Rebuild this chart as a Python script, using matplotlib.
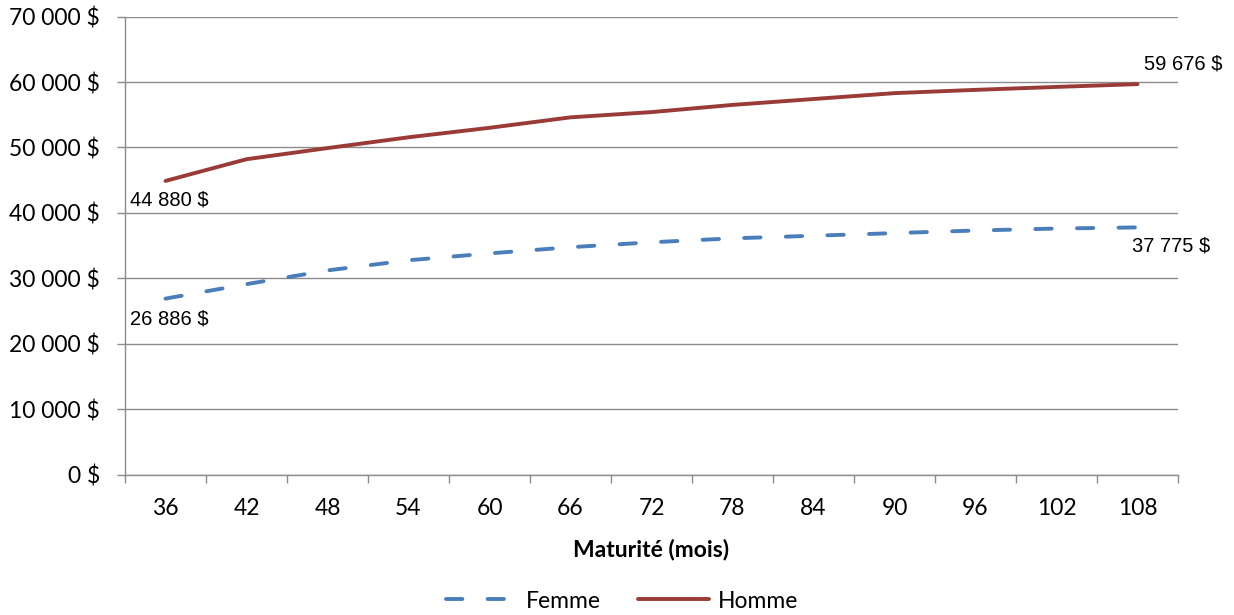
import matplotlib
matplotlib.use("Agg")
import matplotlib.pyplot as plt
from matplotlib.ticker import FixedLocator, FuncFormatter

maturites = [36, 42, 48, 54, 60, 66, 72, 78, 84, 90, 96, 102, 108]
femme = [26886, 29100, 31200, 32750, 33800, 34750, 35500, 36100, 36500, 36900, 37300, 37600, 37775]
homme = [44880, 48200, 49900, 51550, 53000, 54600, 55400, 56500, 57400, 58300, 58800, 59250, 59676]
y_ticks = [0, 10000, 20000, 30000, 40000, 50000, 60000, 70000]

RED = "#9B3B38"
BLUE = "#4A7EBB"
GRID = "#8C8C8C"

fig = plt.figure(figsize=(12.34, 6.15), dpi=100)
ax = fig.add_axes([125/1234, 1-474.5/615, (1178-125)/1234, (474.5-16.6)/615])

x = list(range(len(maturites)))
lf, = ax.plot(x, femme, color=BLUE, lw=2.8, dashes=[4.2, 6.5], dash_capstyle="round",
              solid_capstyle="round", label="Femme", zorder=3)
lh, = ax.plot(x, homme, color=RED, lw=2.8, solid_capstyle="round", label="Homme", zorder=3)

ax.set_xlim(-0.5, len(maturites) - 0.5)
ax.set_ylim(0, 70000)

ax.yaxis.set_major_locator(FixedLocator(y_ticks))
ax.yaxis.set_major_formatter(FuncFormatter(lambda v, p: f"{int(v):,}".replace(",", " ") + " $"))
ax.grid(axis="y", color=GRID, lw=1.0, zorder=0)
ax.set_xticks(x)
ax.set_xticklabels([str(m) for m in maturites])
ax.set_xticks([i - 0.5 for i in range(len(maturites) + 1)], minor=True)

for s in ["top", "right"]:
    ax.spines[s].set_visible(False)
for s in ["left", "bottom"]:
    ax.spines[s].set_color(GRID)
    ax.spines[s].set_linewidth(1.0)

tickfont = "Lato"
FS = 16.5
ax.tick_params(axis="y", length=6, width=1.0, color=GRID, pad=12, labelsize=FS)
ax.tick_params(axis="x", which="major", length=0, pad=17, labelsize=FS)
ax.tick_params(axis="x", which="minor", length=6, width=1.0, color=GRID)
for lab in ax.get_xticklabels() + ax.get_yticklabels():
    lab.set_fontfamily(tickfont)

ax.set_xlabel("Maturité (mois)", fontsize=FS, fontweight="bold", fontfamily=tickfont, labelpad=14)

def lbl(v):
    return f"{v:,}".replace(",", " ") + " $"

dfont = dict(fontsize=14.5, fontfamily="Liberation Sans", color="black")
ax.annotate(lbl(homme[0]), (x[0], homme[0]), xytext=(-35, -19), textcoords="offset pixels",
            ha="left", va="center", **dfont)
ax.annotate(lbl(femme[0]), (x[0], femme[0]), xytext=(-35, -20), textcoords="offset pixels",
            ha="left", va="center", **dfont)
ax.annotate(lbl(homme[-1]), (x[-1], homme[-1]), xytext=(6, 20), textcoords="offset pixels",
            ha="left", va="center", **dfont)
ax.annotate(lbl(femme[-1]), (x[-1], femme[-1]), xytext=(-5, -19), textcoords="offset pixels",
            ha="left", va="center", **dfont)

leg = fig.legend(handles=[lf, lh], loc="center", bbox_to_anchor=(622/1234, 1-601/615),
                 ncol=2, frameon=False, handlelength=3.1, handletextpad=0.4, columnspacing=1.6,
                 prop={"family": tickfont, "size": FS})

fig.savefig("out.png", dpi=100)
